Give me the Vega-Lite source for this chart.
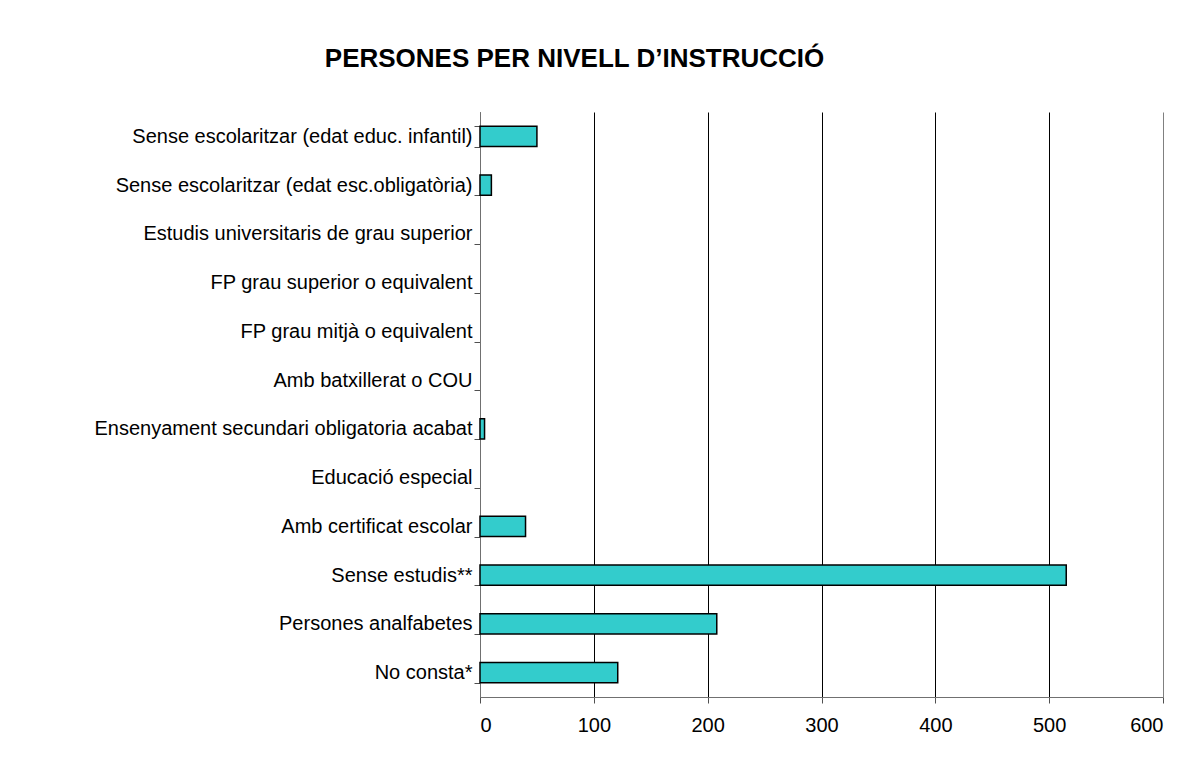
{
  "$schema": "https://vega.github.io/schema/vega-lite/v6.json",
  "autosize": {"type": "none"},
  "padding": {"left": 480, "top": 112, "right": 35, "bottom": 72},
  "width": 683,
  "height": 585,
  "background": "white",
  "title": {
    "text": "PERSONES PER NIVELL D’INSTRUCCIÓ",
    "font": "Liberation Sans",
    "fontSize": 26,
    "fontWeight": "bold",
    "color": "black",
    "anchor": "middle",
    "frame": "group",
    "dx": -247,
    "offset": 30
  },
  "data": {
    "values": [
      {"nivell": "Sense escolaritzar (edat educ. infantil)", "persones": 50},
      {"nivell": "Sense escolaritzar (edat esc.obligatòria)", "persones": 10},
      {"nivell": "Estudis universitaris de grau superior", "persones": 0},
      {"nivell": "FP grau superior o equivalent", "persones": 0},
      {"nivell": "FP grau mitjà o equivalent", "persones": 0},
      {"nivell": "Amb batxillerat o COU", "persones": 0},
      {"nivell": "Ensenyament secundari obligatoria acabat", "persones": 4},
      {"nivell": "Educació especial", "persones": 0},
      {"nivell": "Amb certificat escolar", "persones": 40},
      {"nivell": "Sense estudis**", "persones": 515},
      {"nivell": "Persones analfabetes", "persones": 208},
      {"nivell": "No consta*", "persones": 121}
    ]
  },
  "mark": {"type": "bar", "fill": "#33CCCC", "strokeWidth": 1.5},
  "encoding": {
    "stroke": {"condition": {"test": "datum.persones > 0", "value": "black"}, "value": null},
    "y": {
      "field": "nivell",
      "type": "nominal",
      "sort": null,
      "title": null,
      "scale": {"paddingInner": 0.58, "paddingOuter": 0.29},
      "axis": {
        "ticks": true,
        "domain": true,
        "tickBand": "extent",
        "domainColor": "#707070",
        "tickColor": "#505050",
        "tickSize": 6,
        "tickWidth": 1,
        "labelFont": "Liberation Sans",
        "labelFontSize": 20,
        "labelColor": "black",
        "labelPadding": 2,
        "labelLimit": 480,
        "grid": false
      }
    },
    "x": {
      "field": "persones",
      "type": "quantitative",
      "title": null,
      "scale": {"domain": [0, 600], "nice": false},
      "axis": {
        "values": [0, 100, 200, 300, 400, 500, 600],
        "grid": true,
        "gridColor": {"condition": {"test": "datum.value === 600", "value": "#808080"}, "value": "black"},
        "gridWidth": 1,
        "gridOpacity": 1,
        "domainColor": "#707070",
        "tickColor": "#505050",
        "tickSize": 6,
        "labelFont": "Liberation Sans",
        "labelFontSize": 20,
        "labelColor": "black",
        "labelPadding": 12
      }
    }
  },
  "config": {"view": {"stroke": null}}
}
